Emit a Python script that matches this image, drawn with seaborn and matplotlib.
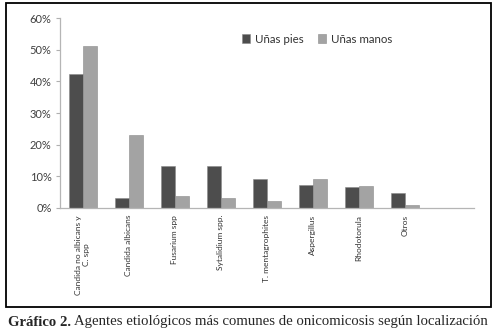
import seaborn as sns
import matplotlib.pyplot as plt
import pandas as pd
from matplotlib.patches import Rectangle
from matplotlib.ticker import FuncFormatter

# data (percent)
agentes = ["Candida no albicans y\nC. spp", "Candida albicans", "Fusarium spp",
           "Sytalidium spp.", "T. mentagrophites", "Aspergillus",
           "Rhodotorula", "Otros"]
pies = [42.3, 3.3, 13.3, 13.2, 9.1, 7.3, 6.7, 4.7]
manos = [51.1, 23.0, 3.9, 3.2, 2.2, 9.3, 7.0, 1.0]
series = ["Uñas pies", "Uñas manos"]

df = pd.DataFrame({
    "agente": agentes * 2,
    "valor": pies + manos,
    "serie": [series[0]] * len(agentes) + [series[1]] * len(agentes),
})

sns.set_style("white")
plt.rcParams["font.family"] = ["Lato", "DejaVu Sans"]

fig = plt.figure(figsize=(4.95, 3.36), dpi=100)
ax = fig.add_axes([0.121, 0.381, 0.836, 0.565])

sns.barplot(data=df, x="agente", y="valor", hue="serie", ax=ax,
            palette=["#4d4d4d", "#a3a3a3"], width=0.6, saturation=1,
            edgecolor="#8a8a8a", linewidth=0.4)

ax.set_xlim(-0.5, 8.5)
ax.set_ylim(0, 60)
ax.set_yticks(range(0, 61, 10))
ax.yaxis.set_major_formatter(FuncFormatter(lambda v, p: f"{v:.0f}%"))
ax.set_xlabel("")
ax.set_ylabel("")
ax.set_xticks(range(len(agentes)))
ax.set_xticklabels(agentes, rotation=90, fontsize=6, color="#333333",
                   multialignment="center")
ax.tick_params(axis="x", length=0, pad=5)
ax.tick_params(axis="y", length=3, color="#b0b0b0", labelsize=8,
               labelcolor="#404040", pad=3, left=True)
for s in ["top", "right"]:
    ax.spines[s].set_visible(False)
for s in ["left", "bottom"]:
    ax.spines[s].set_color("#b5b5b5")
    ax.spines[s].set_linewidth(0.9)

ax.legend(loc="center left", bbox_to_anchor=(0.415, 0.89), ncol=2,
          frameon=False, fontsize=8.3, handlelength=0.7, handleheight=0.7,
          handletextpad=0.4, columnspacing=1.3, labelcolor="#333333")

# outer frame of the figure box
fig.patches.append(Rectangle((6 / 495, 1 - 307 / 336), 485 / 495, 304 / 336,
                             transform=fig.transFigure, fill=False,
                             edgecolor="black", linewidth=1.3))

t1 = fig.text(8 / 495, 1 - 322 / 336, "Gráfico 2.", fontsize=10.6,
              fontweight="bold", family="Liberation Serif", va="center")
fig.canvas.draw()
bb = t1.get_window_extent()
fig.text((bb.x1 + 3) / 495, 1 - 322 / 336,
         "Agentes etiológicos más comunes de onicomicosis según localización",
         fontsize=10.6, family="Liberation Serif", va="center")

fig.savefig("out.png", dpi=100)
